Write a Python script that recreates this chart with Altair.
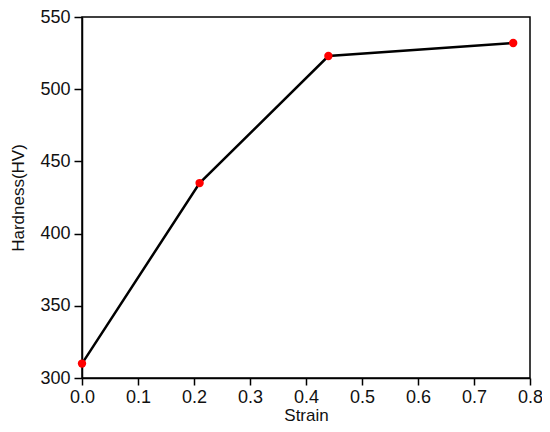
import altair as alt
import pandas as pd

strain = [0.0, 0.21, 0.44, 0.77]
hardness = [310, 435, 523, 532]

df = pd.DataFrame({"Strain": strain, "Hardness": hardness})

font = "Liberation Sans"

x = alt.X("Strain:Q", title="Strain",
          scale=alt.Scale(domain=[0, 0.8], nice=False, zero=False),
          axis=alt.Axis(values=[0, 0.1, 0.2, 0.3, 0.4, 0.5, 0.6, 0.7, 0.8], format=".1f",
                        grid=False, domainColor="black", tickColor="black", tickSize=7,
                        labelFontSize=18, labelColor="#111", labelFont=font, labelPadding=3,
                        labelFlush=False,
                        titleFont=font, titleFontSize=17, titleFontWeight="normal",
                        titleColor="#111", titlePadding=1))
y = alt.Y("Hardness:Q", title="Hardness(HV)",
          scale=alt.Scale(domain=[300, 550], nice=False, zero=False),
          axis=alt.Axis(values=[300, 350, 400, 450, 500, 550],
                        grid=False, domainColor="black", tickColor="black", tickSize=8,
                        labelFontSize=18, labelColor="#111", labelFont=font, labelPadding=4,
                        labelFlush=False,
                        titleFont=font, titleFontSize=17, titleFontWeight="normal",
                        titleColor="#111", titlePadding=12))

line = alt.Chart(df).mark_line(color="black", strokeWidth=2.5).encode(x=x, y=y)
pts = alt.Chart(df).mark_circle(color="#ff0000", size=70, opacity=1).encode(x=x, y=y)

chart = (line + pts).properties(
    width=448, height=361,
    autosize=alt.AutoSizeParams(type="none"),
    padding={"left": 74, "top": 9, "right": 12, "bottom": 46},
).configure_view(stroke="black", strokeWidth=1.5).configure_axis(domainWidth=1.5, tickWidth=1.5)

chart.save("out.html", embed_options={"renderer": "svg", "actions": False})
